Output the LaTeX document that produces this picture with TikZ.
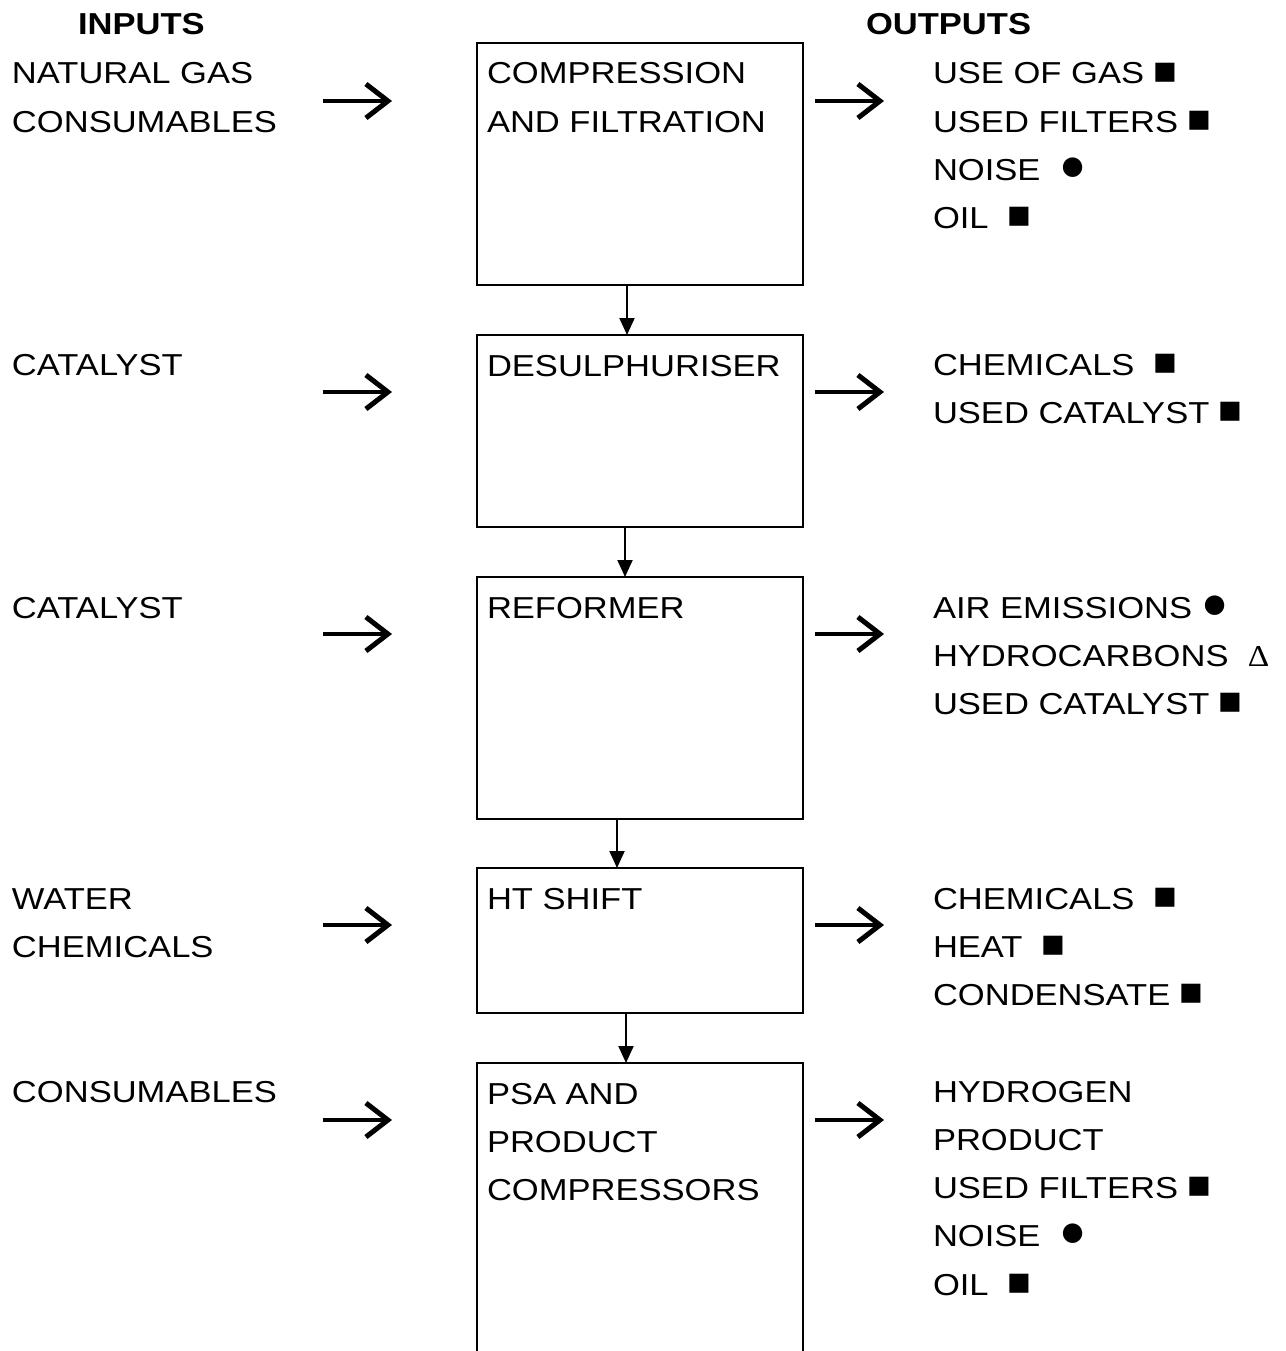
\documentclass[tikz,border=0pt]{standalone}
\usepackage{fontspec}
\setmainfont{Liberation Sans}[FakeStretch=1.14]
\newfontfamily\symserif{Liberation Serif}[FakeStretch=1.1]
\usetikzlibrary{positioning}
\usetikzlibrary{arrows.meta}

\newcommand{\blksq}{\scalebox{1.14}[1.3]{■}}
\newcommand{\blkdot}{\scalebox{1.3}[1.5]{●}}
\newcommand{\hcdelta}{{\symserif Δ}}

\tikzset{
  stage/.style={draw, line width=2.5pt, minimum width=326pt, minimum height=#1, inner sep=0pt, outer sep=0pt, anchor=north west},
  txt/.style={anchor=base west, inner sep=0pt, outer sep=0pt, align=left, font=\fontsize{30.3}{48.3}\selectfont},
  head/.style={txt, font=\fontsize{30.3}{48.3}\selectfont\bfseries},
  flow/.style={line width=4pt, -{Straight Barb[length=22pt,width=34pt,line width=5pt]}},
  down/.style={line width=2pt, -{Triangle[length=17pt,width=15pt]}}
}

% base of a text block sits on its last line: first baseline + lines
\newcommand{\lastbase}[2]{{#1+(#2-1)*48.3}}

\begin{document}
\begin{tikzpicture}[x=1pt,y=-1pt]
	\path[use as bounding box, clip] (0,0) rectangle (1285,1351);

	%% Headings %%
	\node[head] (inputs) at (78,35) {INPUTS};
	\node[head] (outputs) at (866,35) {OUTPUTS};

	%% Process Stages %%
	\node[stage=242pt] (comp) at (477,43) {};
	\node[stage=192pt] (desul) at (477,335) {};
	\node[stage=242pt] (reform) at (477,577) {};
	\node[stage=145pt] (shift) at (477,868) {};
	\node[stage=320pt] (psa) at (477,1063) {};
	\node[txt] (comptxt) at ([xshift=10pt,yshift=-89.3pt]comp.north west) {COMPRESSION\\AND FILTRATION};
	\node[txt] (desultxt) at ([xshift=10pt,yshift=-41pt]desul.north west) {DESULPHURISER};
	\node[txt] (reformtxt) at ([xshift=10pt,yshift=-41pt]reform.north west) {REFORMER};
	\node[txt] (shifttxt) at ([xshift=10pt,yshift=-41pt]shift.north west) {HT SHIFT};
	\node[txt] (psatxt) at ([xshift=10pt,yshift=-137.6pt]psa.north west) {PSA AND\\PRODUCT\\COMPRESSORS};

	%% Links Between Stages %%
	\draw[down] ([xshift=-13pt]comp.south) -- ([xshift=-13pt]desul.north);
	\draw[down] ([xshift=-15pt]desul.south) -- ([xshift=-15pt]reform.north);
	\draw[down] ([xshift=-23pt]reform.south) -- ([xshift=-23pt]shift.north);
	\draw[down] ([xshift=-14pt]shift.south) -- ([xshift=-14pt]psa.north);

	%% Inputs %%
	\node[txt] (in1) at (12,\lastbase{84}{2}) {NATURAL GAS\\CONSUMABLES};
	\node[txt] (in2) at (12,375) {CATALYST};
	\node[txt] (in3) at (12,618) {CATALYST};
	\node[txt] (in4) at (12,\lastbase{909}{2}) {WATER\\CHEMICALS};
	\node[txt] (in5) at (12,1102) {CONSUMABLES};

	%% Outputs %%
	\node[txt] (out1) at (933,\lastbase{84}{4}) {USE OF GAS \blksq\\USED FILTERS \blksq\\NOISE~~\blkdot\\OIL~~\blksq};
	\node[txt] (out2) at (933,\lastbase{375}{2}) {CHEMICALS~~\blksq\\USED CATALYST \blksq};
	\node[txt] (out3) at (933,\lastbase{618}{3}) {AIR EMISSIONS \blkdot\\HYDROCARBONS~~\hcdelta\\USED CATALYST \blksq};
	\node[txt] (out4) at (933,\lastbase{909}{3}) {CHEMICALS~~\blksq\\HEAT~~\blksq\\CONDENSATE \blksq};
	\node[txt] (out5) at (933,\lastbase{1102}{5}) {HYDROGEN\\PRODUCT\\USED FILTERS \blksq\\NOISE~~\blkdot\\OIL~~\blksq};

	%% Flow Arrows %%
	\foreach \y [count=\i] in {101,392,634,925,1120} {
		\coordinate (ina\i) at (323,\y);
		\coordinate (inb\i) at (392,\y);
		\coordinate (outa\i) at (815,\y);
		\coordinate (outb\i) at (884,\y);
		\draw[flow] (ina\i) -- (inb\i);
		\draw[flow] (outa\i) -- (outb\i);
	}

\end{tikzpicture}
\end{document}
